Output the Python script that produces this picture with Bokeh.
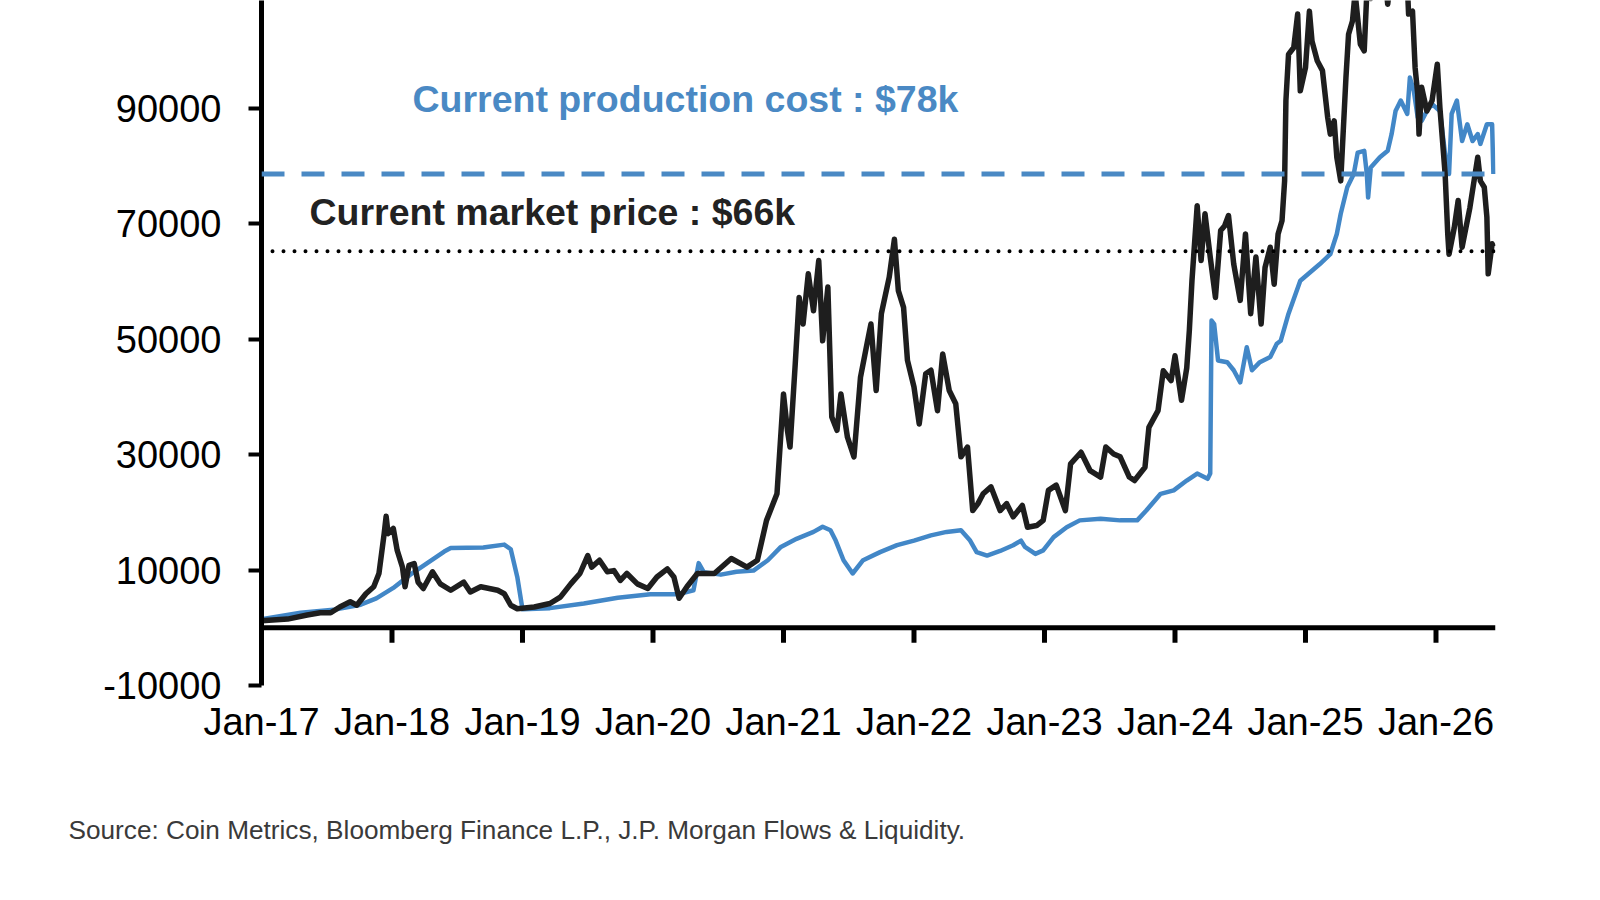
import numpy as np
from bokeh.plotting import figure
from bokeh.models import Range1d, FixedTicker, Span, Label, NumeralTickFormatter, Title
from bokeh.embed import file_html
from bokeh.resources import INLINE

# ---------------- data ----------------
tick_years = [2017, 2018, 2019, 2020, 2021, 2022, 2023, 2024, 2025, 2026]
tick_labels = ["Jan-17", "Jan-18", "Jan-19", "Jan-20", "Jan-21",
               "Jan-22", "Jan-23", "Jan-24", "Jan-25", "Jan-26"]
y_ticks = [-10000, 10000, 30000, 50000, 70000, 90000, 110000]

# Bitcoin market price (USD thousands), time in decimal years
price_t = [2017.00, 2017.20, 2017.35, 2017.45, 2017.53, 2017.60, 2017.68, 2017.73, 2017.80, 2017.86,
           2017.90, 2017.94, 2017.955, 2017.97, 2018.01, 2018.04, 2018.08, 2018.10, 2018.13, 2018.17,
           2018.20, 2018.24, 2018.31, 2018.37, 2018.45, 2018.55, 2018.60, 2018.68, 2018.81, 2018.86,
           2018.91, 2018.96, 2019.09, 2019.21, 2019.29, 2019.37, 2019.44, 2019.50, 2019.53, 2019.59,
           2019.65, 2019.70, 2019.75, 2019.80, 2019.88, 2019.96, 2020.03, 2020.11, 2020.16, 2020.20,
           2020.26, 2020.34, 2020.47, 2020.60, 2020.72, 2020.80, 2020.87, 2020.95, 2021.00, 2021.03,
           2021.05, 2021.09, 2021.12, 2021.15, 2021.19, 2021.23, 2021.27, 2021.30, 2021.34, 2021.37,
           2021.41, 2021.44, 2021.49, 2021.54, 2021.59, 2021.64, 2021.67, 2021.71, 2021.75, 2021.81,
           2021.85, 2021.88, 2021.92, 2021.95, 2022.00, 2022.04, 2022.09, 2022.13, 2022.18, 2022.22,
           2022.27, 2022.32, 2022.36, 2022.41, 2022.45, 2022.49, 2022.53, 2022.59, 2022.66, 2022.71,
           2022.76, 2022.83, 2022.87, 2022.94, 2022.99, 2023.03, 2023.09, 2023.16, 2023.20, 2023.28,
           2023.35, 2023.43, 2023.47, 2023.53, 2023.58, 2023.65, 2023.69, 2023.77, 2023.80, 2023.87,
           2023.91, 2023.97, 2024.00, 2024.05, 2024.09, 2024.11, 2024.13, 2024.17, 2024.20, 2024.23,
           2024.27, 2024.31, 2024.35, 2024.38, 2024.41, 2024.45, 2024.50, 2024.54, 2024.58, 2024.62,
           2024.66, 2024.69, 2024.73, 2024.76, 2024.79, 2024.82, 2024.84, 2024.85, 2024.87, 2024.91,
           2024.94, 2024.96, 2025.00, 2025.03, 2025.05, 2025.09, 2025.13, 2025.17, 2025.19, 2025.22,
           2025.24, 2025.27, 2025.31, 2025.33, 2025.36, 2025.38, 2025.42, 2025.45, 2025.47, 2025.50,
           2025.55, 2025.60, 2025.63, 2025.68, 2025.72, 2025.76, 2025.79, 2025.82, 2025.84, 2025.86,
           2025.87, 2025.89, 2025.93, 2025.97, 2026.01, 2026.03, 2026.07, 2026.09, 2026.10, 2026.14,
           2026.17, 2026.20, 2026.26, 2026.32, 2026.34, 2026.37, 2026.39, 2026.40, 2026.43, 2026.44]
price_k = [1.2, 1.5, 2.2, 2.6, 2.6, 3.6, 4.5, 3.9, 5.9, 7.1,
           9.4, 16.3, 19.3, 16.3, 17.2, 13.4, 10.5, 7.1, 10.8, 11.1,
           7.9, 6.8, 9.7, 7.6, 6.5, 7.9, 6.2, 7.1, 6.5, 5.9,
           3.9, 3.3, 3.6, 4.2, 5.3, 7.6, 9.4, 12.5, 10.5, 11.7,
           9.7, 9.9, 8.2, 9.4, 7.6, 6.8, 8.8, 10.2, 8.8, 5.1,
           7.1, 9.4, 9.4, 12.0, 10.5, 11.7, 18.6, 23.2, 40.5, 34.2,
           31.3, 45.7, 57.2, 52.6, 61.3, 54.9, 63.6, 49.7, 59.0, 36.5,
           34.2, 40.5, 33.0, 29.6, 43.4, 49.2, 52.6, 41.1, 54.4, 60.7,
           67.3, 58.4, 55.5, 46.3, 41.7, 35.3, 44.0, 44.6, 37.6, 47.4,
           41.1, 38.8, 29.6, 31.3, 20.3, 21.5, 23.2, 24.4, 20.3, 21.5,
           19.2, 21.2, 17.4, 17.7, 18.6, 23.8, 24.7, 20.3, 28.4, 30.4,
           27.2, 26.1, 31.3, 30.1, 29.6, 26.1, 25.5, 27.8, 34.7, 37.6,
           44.5, 42.8, 47.1, 39.4, 45.0, 51.5, 60.1, 73.1, 63.6, 71.7,
           64.2, 57.2, 68.8, 69.6, 71.4, 63.0, 56.7, 68.2, 54.4, 64.2,
           52.6, 62.4, 65.9, 59.5, 68.2, 70.5, 77.4, 91.3, 99.3, 100.5,
           106.3, 93.0, 97.0, 106.8, 101.6, 98.2, 96.5, 88.4, 85.5, 87.8,
           81.5, 77.4, 95.3, 102.8, 105.1, 110.0, 101.1, 99.9, 110.0, 109.0,
           117.0, 115.0, 108.0, 118.0, 114.0, 122.0, 106.3, 106.8, 97.0, 92.4,
           85.5, 93.6, 89.5, 91.3, 97.6, 90.1, 78.6, 68.2, 64.7, 69.3,
           74.0, 65.9, 72.8, 81.5, 77.4, 76.3, 71.1, 61.3, 66.5, 66.0]

# Estimated production cost (USD thousands)
cost_t = [2017.00, 2017.30, 2017.55, 2017.76, 2017.88, 2018.01, 2018.14, 2018.27, 2018.40, 2018.45,
          2018.70, 2018.86, 2018.91, 2018.96, 2019.00, 2019.21, 2019.47, 2019.73, 2019.98, 2020.19,
          2020.31, 2020.35, 2020.39, 2020.52, 2020.64, 2020.77, 2020.88, 2020.98, 2021.10, 2021.23,
          2021.30, 2021.36, 2021.40, 2021.46, 2021.53, 2021.61, 2021.74, 2021.87, 2022.00, 2022.13,
          2022.25, 2022.36, 2022.43, 2022.48, 2022.56, 2022.66, 2022.76, 2022.82, 2022.85, 2022.93,
          2022.99, 2023.07, 2023.17, 2023.27, 2023.43, 2023.58, 2023.71, 2023.78, 2023.89, 2023.99,
          2024.09, 2024.17, 2024.25, 2024.27, 2024.28, 2024.30, 2024.33, 2024.40, 2024.45, 2024.50,
          2024.55, 2024.59, 2024.65, 2024.73, 2024.78, 2024.81, 2024.87, 2024.96, 2025.11, 2025.19,
          2025.24, 2025.27, 2025.32, 2025.37, 2025.40, 2025.45, 2025.47, 2025.48, 2025.50, 2025.57,
          2025.63, 2025.66, 2025.69, 2025.73, 2025.78, 2025.80, 2025.83, 2025.86, 2025.89, 2025.93,
          2025.97, 2026.03, 2026.07, 2026.10, 2026.12, 2026.16, 2026.20, 2026.24, 2026.28, 2026.32,
          2026.34, 2026.39, 2026.43, 2026.44]
cost_k = [1.5, 2.6, 3.1, 4.0, 5.1, 6.9, 9.2, 11.2, 13.2, 13.8,
          13.9, 14.4, 13.6, 8.8, 3.2, 3.4, 4.2, 5.2, 5.8, 5.8,
          6.5, 11.2, 9.6, 9.2, 9.7, 9.9, 11.7, 14.0, 15.4, 16.6,
          17.5, 16.9, 15.1, 11.7, 9.4, 11.7, 13.1, 14.3, 15.1, 16.0,
          16.6, 16.9, 15.1, 13.1, 12.5, 13.3, 14.3, 15.1, 14.0, 12.8,
          13.4, 15.7, 17.4, 18.6, 18.9, 18.6, 18.6, 20.3, 23.2, 23.8,
          25.5, 26.7, 25.8, 26.7, 53.2, 52.6, 46.3, 46.0, 44.6, 42.5,
          48.6, 44.6, 46.0, 46.9, 49.2, 49.7, 54.4, 60.1, 63.0, 64.7,
          68.2, 71.7, 76.3, 78.6, 82.3, 82.6, 78.6, 74.5, 79.7, 81.5,
          82.6, 85.5, 89.5, 91.3, 89.0, 95.3, 93.0, 88.4, 87.8, 89.5,
          90.7, 89.5, 82.0, 78.6, 89.0, 91.3, 84.3, 87.2, 84.3, 85.5,
          83.8, 87.2, 87.2, 78.6]

production_cost = 78600
market_price = 65200
cost_text = "Current production cost : $78k"
price_text = "Current market price : $66k"
source_text = "Source: Coin Metrics, Bloomberg Finance L.P., J.P. Morgan Flows & Liquidity."

# ---------------- styles ----------------
BLUE = "#4287c7"
BLUE_TXT = "#4a89c4"
DARK = "#1e1e1e"
TICK_FONT = "'Liberation Sans', Arial, sans-serif"
TEXT_FONT = "'Liberation Sans', Arial, sans-serif"

p = figure(width=1580, height=880,
           x_range=Range1d(2017.0, 2026.456), y_range=Range1d(-10000, 108640),
           output_backend="svg", toolbar_location=None,
           min_border_left=261, min_border_right=85, min_border_top=0, min_border_bottom=195)
p.outline_line_color = None
p.grid.visible = False
p.background_fill_color = "white"
p.border_fill_color = "white"

# x axis: labels only (axis line sits at zero, drawn below)
xa = p.xaxis[0]
xa.ticker = FixedTicker(ticks=tick_years)
xa.major_label_overrides = {t: l for t, l in zip(tick_years, tick_labels)}
xa.axis_line_color = None
xa.major_tick_line_color = None
xa.minor_tick_line_color = None
xa.major_tick_out = 0
xa.major_tick_in = 0
xa.major_label_text_font = TICK_FONT
xa.major_label_text_font_size = "38px"
xa.major_label_text_color = "black"
xa.major_label_standoff = 15
# blank axis label used only as vertical spacing before the source note
xa.axis_label = " "
xa.axis_label_text_font_size = "1px"
xa.axis_label_standoff = 65

ya = p.yaxis[0]
ya.ticker = FixedTicker(ticks=y_ticks)
ya.formatter = NumeralTickFormatter(format="0")
ya.axis_line_width = 5
ya.axis_line_color = "black"
ya.major_tick_line_width = 4
ya.major_tick_line_color = "black"
ya.major_tick_out = 13
ya.major_tick_in = 0
ya.minor_tick_line_color = None
ya.major_label_text_font = TICK_FONT
ya.major_label_text_font_size = "38px"
ya.major_label_text_color = "black"
ya.major_label_standoff = 27

# reference levels
p.add_layout(Span(location=production_cost, dimension="width", line_color=BLUE_TXT,
                  line_width=5, line_dash="23 17"))
p.add_layout(Span(location=market_price, dimension="width", line_color="black",
                  line_width=4, line_dash="0 11", line_cap="round"))

# series
p.line(cost_t, np.array(cost_k) * 1000, line_color=BLUE, line_width=4.5, line_join="round")
p.line(price_t, np.array(price_k) * 1000, line_color=DARK, line_width=5.5, line_join="round")

# zero axis line with downward ticks
p.add_layout(Span(location=0, dimension="width", line_color="black", line_width=5))
p.segment(x0=tick_years, y0=[0] * len(tick_years), x1=tick_years, y1=[-2600] * len(tick_years),
          line_color="black", line_width=5)

# annotations
p.add_layout(Label(x=2018.157, y=91560, text=cost_text, text_font=TEXT_FONT,
                   text_font_style="bold", text_font_size="37.5px", text_color=BLUE_TXT,
                   text_baseline="alphabetic"))
p.add_layout(Label(x=2017.368, y=71940, text=price_text, text_font=TEXT_FONT,
                   text_font_style="bold", text_font_size="37.5px", text_color="#222222",
                   text_baseline="alphabetic"))

# source note below the chart
p.add_layout(Title(text=source_text, align="left", offset=-193, standoff=0,
                   vertical_align="top", text_font=TEXT_FONT, text_font_style="normal",
                   text_font_size="26.2px", text_color="#3a3a3a"), "below")

open("out.html", "w").write(file_html(p, INLINE))
